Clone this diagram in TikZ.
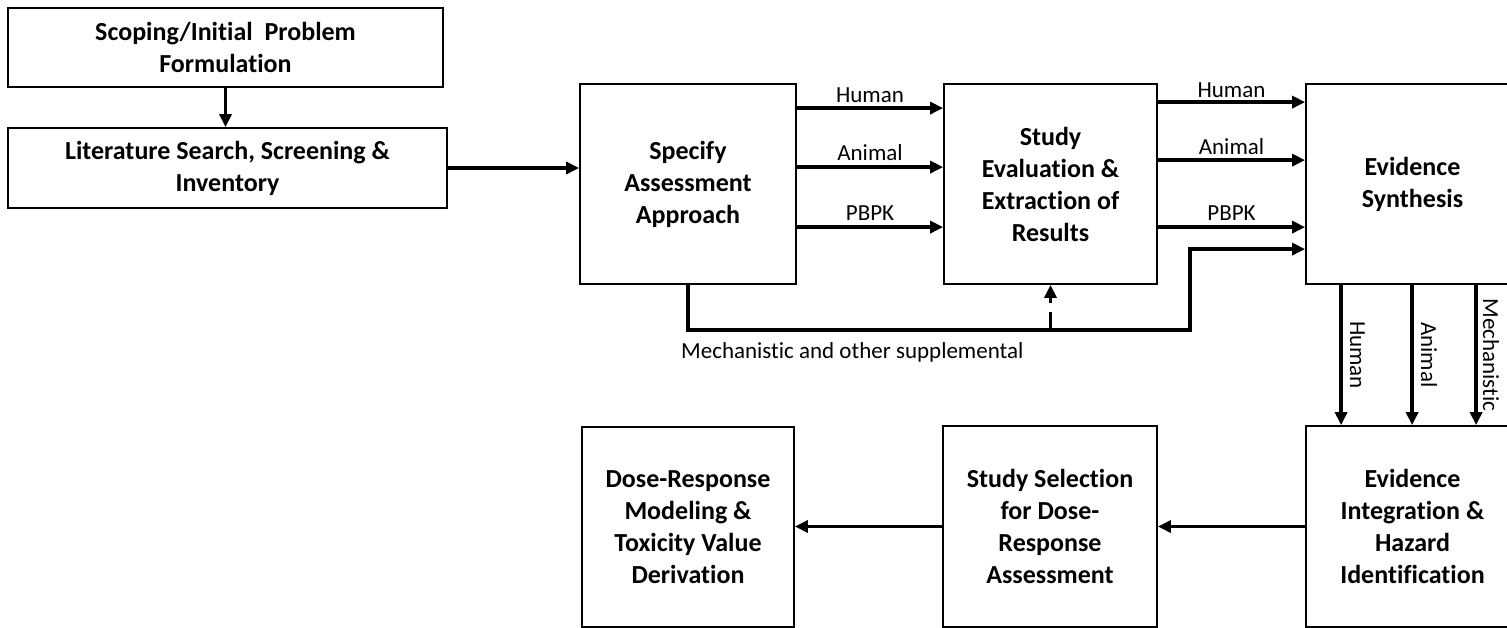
\documentclass[tikz,border=0pt]{standalone}
\usepackage{fontspec}
\setmainfont{Carlito}[Ligatures=CommonOff]
\usetikzlibrary{arrows.meta, positioning}

\begin{document}
\begin{tikzpicture}[
    x=1pt, y=-1pt,
    box/.style={draw, line width=1.8pt, align=center, inner sep=0pt,
      font=\bfseries\fontsize{26}{32}\selectfont},
    lnk/.style={line width=3.7pt, -{Triangle[length=13pt, width=12pt]}},
    lbl/.style={font=\fontsize{23}{28}\selectfont, inner sep=0pt}
  ]
  \useasboundingbox (0,0) rectangle (1507,628);

  % Scoping and search
  \node[box, minimum width=435pt, minimum height=79pt] (scoping) at (225.5,47.5) {Scoping/Initial\ \ Problem\\Formulation};
  \node[box, minimum width=439pt, minimum height=80pt] (lit) at (227.5,168) {Literature Search, Screening \&\\Inventory};
  \draw[lnk] (scoping.south) -- (scoping.south |- lit.north);

  % Top row
  \node[box, minimum width=216pt, minimum height=200pt] (specify) at (688,184) {Specify\\Assessment\\Approach};
  \node[box, minimum width=213pt, minimum height=200pt] (studyeval) at (1050.5,184) {Study\\Evaluation \&\\Extraction of\\Results};
  \node[box, minimum width=213pt, minimum height=200pt] (synth) at (1412.5,184) {Evidence\\Synthesis};
  \draw[lnk] (lit.east) -- (lit.east -| specify.west);

  \draw[lnk] ([yshift=-25pt]specify.north east) -- ([yshift=-25pt]studyeval.north west) node[lbl, midway, anchor=base, yshift=6pt] (h1) {Human};
  \draw[lnk] ([yshift=-84pt]specify.north east) -- ([yshift=-84pt]studyeval.north west) node[lbl, midway, anchor=base, yshift=7pt] (a1) {Animal};
  \draw[lnk] ([yshift=-144pt]specify.north east) -- ([yshift=-144pt]studyeval.north west) node[lbl, midway, anchor=base, yshift=7pt] (p1) {PBPK};

  \draw[lnk] ([yshift=-19pt]studyeval.north east) -- ([yshift=-19pt]synth.north west) node[lbl, midway, anchor=base, yshift=5pt] (h2) {Human};
  \draw[lnk] ([yshift=-77pt]studyeval.north east) -- ([yshift=-77pt]synth.north west) node[lbl, midway, anchor=base, yshift=6pt] (a2) {Animal};
  \draw[lnk] ([yshift=-144pt]studyeval.north east) -- ([yshift=-144pt]synth.north west) node[lbl, midway, anchor=base, yshift=7pt] (p2) {PBPK};

  % Mechanistic route
  \coordinate (mbend) at (1190,330);
  \draw[lnk, line join=miter] (specify.south) |- (mbend) |- ([yshift=-166pt]synth.north west);
  \draw[lnk, dash pattern=on 18pt off 9pt] (studyeval.south |- mbend) -- (studyeval.south);
  \node[lbl, anchor=west] (mechlbl) at (681,352) {Mechanistic and other supplemental};

  % Bottom row
  \node[box, minimum width=213pt, minimum height=201pt] (integ) at (1412.5,526.5) {Evidence\\Integration \&\\Hazard\\Identification};
  \node[box, minimum width=214pt, minimum height=201pt] (select) at (1050,526.5) {Study Selection\\for Dose-\\Response\\Assessment};
  \node[box, minimum width=212pt, minimum height=200pt] (doseresp) at (688,527) {Dose-Response\\Modeling \&\\Toxicity Value\\Derivation};

  \draw[lnk] ([xshift=36pt]synth.south west) -- ([xshift=36pt]integ.north west) node[lbl, midway, rotate=-90, anchor=south, inner sep=7pt] (h3) {Human};
  \draw[lnk] ([xshift=107pt]synth.south west) -- ([xshift=107pt]integ.north west) node[lbl, midway, rotate=-90, anchor=south, inner sep=7pt] (a3) {Animal};
  \draw[lnk] ([xshift=171pt]synth.south west) -- ([xshift=171pt]integ.north west) node[lbl, midway, rotate=-90, anchor=south, inner sep=5pt] (m3) {Mechanistic};

  \draw[lnk] (integ.west) -- (integ.west -| select.east);
  \draw[lnk] (select.west) -- (select.west -| doseresp.east);
\end{tikzpicture}
\end{document}
